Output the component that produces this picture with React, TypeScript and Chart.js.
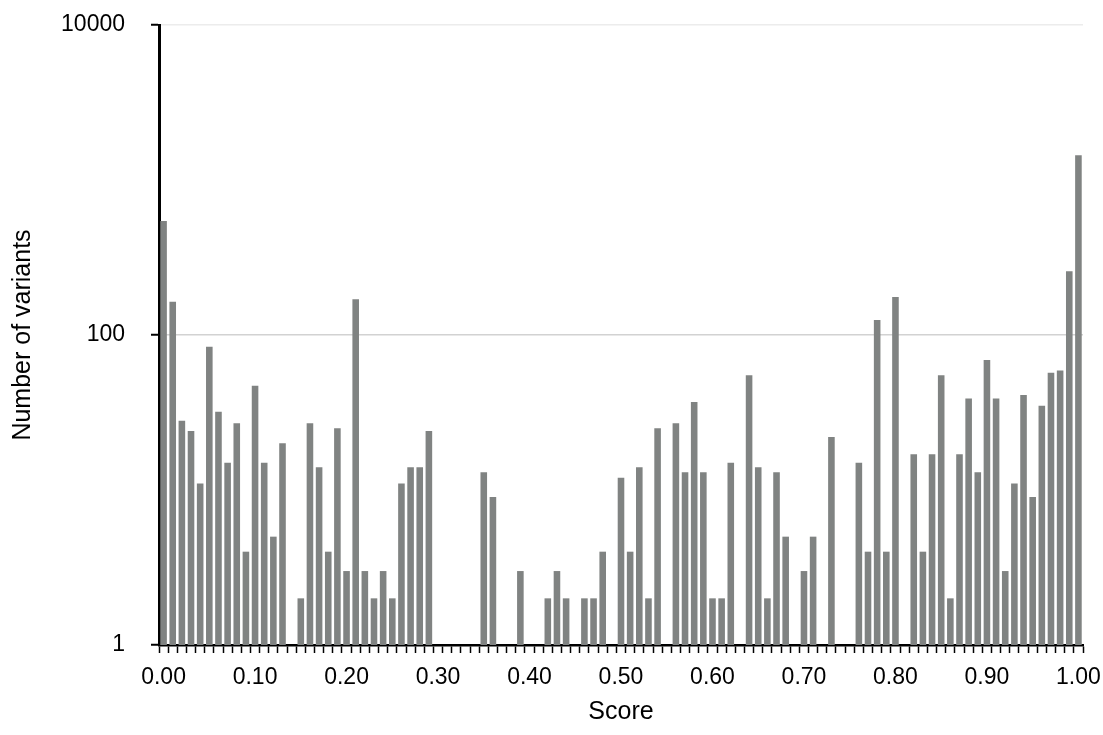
import React, { useEffect, useRef } from 'react';
import { Chart, registerables } from 'chart.js';

Chart.register(...registerables);

const scores = [
  '0.00','0.01','0.02','0.03','0.04','0.05','0.06','0.07','0.08','0.09',
  '0.10','0.11','0.12','0.13','0.14','0.15','0.16','0.17','0.18','0.19',
  '0.20','0.21','0.22','0.23','0.24','0.25','0.26','0.27','0.28','0.29',
  '0.30','0.31','0.32','0.33','0.34','0.35','0.36','0.37','0.38','0.39',
  '0.40','0.41','0.42','0.43','0.44','0.45','0.46','0.47','0.48','0.49',
  '0.50','0.51','0.52','0.53','0.54','0.55','0.56','0.57','0.58','0.59',
  '0.60','0.61','0.62','0.63','0.64','0.65','0.66','0.67','0.68','0.69',
  '0.70','0.71','0.72','0.73','0.74','0.75','0.76','0.77','0.78','0.79',
  '0.80','0.81','0.82','0.83','0.84','0.85','0.86','0.87','0.88','0.89',
  '0.90','0.91','0.92','0.93','0.94','0.95','0.96','0.97','0.98','0.99',
  '1.00',
];

const variantCounts: (number | null)[] = [
  544, 164, 28, 24, 11, 84, 32, 15, 27, 4,
  47, 15, 5, 20, null, 2, 27, 14, 4, 25,
  3, 170, 3, 2, 3, 2, 11, 14, 14, 24,
  null, null, null, null, null, 13, 9, null, null, 3,
  null, null, 2, 3, 2, null, 2, 2, 4, null,
  12, 4, 14, 2, 25, null, 27, 13, 37, 13,
  2, 2, 15, null, 55, 14, 2, 13, 5, null,
  3, 5, null, 22, null, null, 15, 4, 125, 4,
  176, null, 17, 4, 17, 55, 2, 17, 39, 13,
  69, 39, 3, 11, 41, 9, 35, 57, 59, 258,
  1443,
];

const yTickValues = [1, 100, 10000];
const xTickLabels = ['0.00', '0.10', '0.20', '0.30', '0.40', '0.50', '0.60', '0.70', '0.80', '0.90', '1.00'];

const W = 1103;
const H = 735;
const AREA = { left: 159, right: 1083, top: 25, bottom: 645 };
const FONT = 'Liberation Sans, Arial, Helvetica, sans-serif';

export default function App() {
  const ref = useRef<HTMLCanvasElement>(null);

  useEffect(() => {
    if (!ref.current) return;
    const chart = new Chart(ref.current, {
      type: 'bar',
      data: {
        labels: scores,
        datasets: [
          {
            data: variantCounts as any,
            backgroundColor: 'rgb(128,131,130)',
            borderWidth: 0,
            barPercentage: 0.72,
            categoryPercentage: 1,
          },
        ],
      },
      options: {
        responsive: false,
        animation: false,
        devicePixelRatio: 1,
        layout: { padding: { left: 0, right: W - AREA.right, top: AREA.top, bottom: 0 } },
        plugins: { legend: { display: false }, tooltip: { enabled: false } },
        scales: {
          x: {
            type: 'category',
            offset: true,
            grid: {
              display: true,
              drawOnChartArea: false,
              offset: true,
              tickLength: 8,
              tickColor: '#000',
              tickWidth: 1.5,
            },
            border: { display: true, color: '#000', width: 2.5 },
            ticks: {
              autoSkip: false,
              maxRotation: 0,
              minRotation: 0,
              padding: 11,
              color: '#000',
              font: { family: FONT, size: 23 },
              callback: (_v: any, i: number) => {
                const lbl = scores[i];
                return xTickLabels.includes(lbl) ? lbl : '';
              },
            },
            title: {
              display: true,
              text: 'Score',
              color: '#000',
              font: { family: FONT, size: 25 },
              padding: { top: 4, bottom: 8 },
            },
            afterFit: (s: any) => {
              s.height = H - AREA.bottom;
              s.paddingLeft = 0;
              s.paddingRight = 0;
            },
          },
          y: {
            type: 'logarithmic',
            min: 1,
            max: 10000,
            grid: {
              display: true,
              drawOnChartArea: true,
              tickLength: 8,
              tickWidth: 2,
              tickColor: '#000',
              lineWidth: 1.5,
              color: (ctx: any) => {
                const v = ctx.tick && ctx.tick.value;
                if (v === 100) return '#d2d2d2';
                if (v === 10000) return '#ececec';
                return 'rgba(0,0,0,0)';
              },
            },
            border: { display: true, color: '#000', width: 3 },
            afterBuildTicks: (s: any) => {
              s.ticks = yTickValues.map((v) => ({ value: v }));
            },
            ticks: {
              padding: 26,
              color: '#000',
              font: { family: FONT, size: 23 },
              callback: (v: any) => String(v),
            },
            title: {
              display: true,
              text: 'Number of variants',
              color: '#000',
              font: { family: FONT, size: 25 },
              padding: { top: 8, bottom: 4 },
            },
            afterFit: (s: any) => {
              s.width = AREA.left;
              s.paddingTop = 0;
              s.paddingBottom = 0;
            },
          },
        },
      },
    });
    return () => chart.destroy();
  }, []);

  return (
    <div style={{ position: 'fixed', left: 0, top: 0, width: W, height: H, background: '#fff' }}>
      <canvas ref={ref} width={W} height={H} style={{ display: 'block', width: W, height: H }} />
    </div>
  );
}
